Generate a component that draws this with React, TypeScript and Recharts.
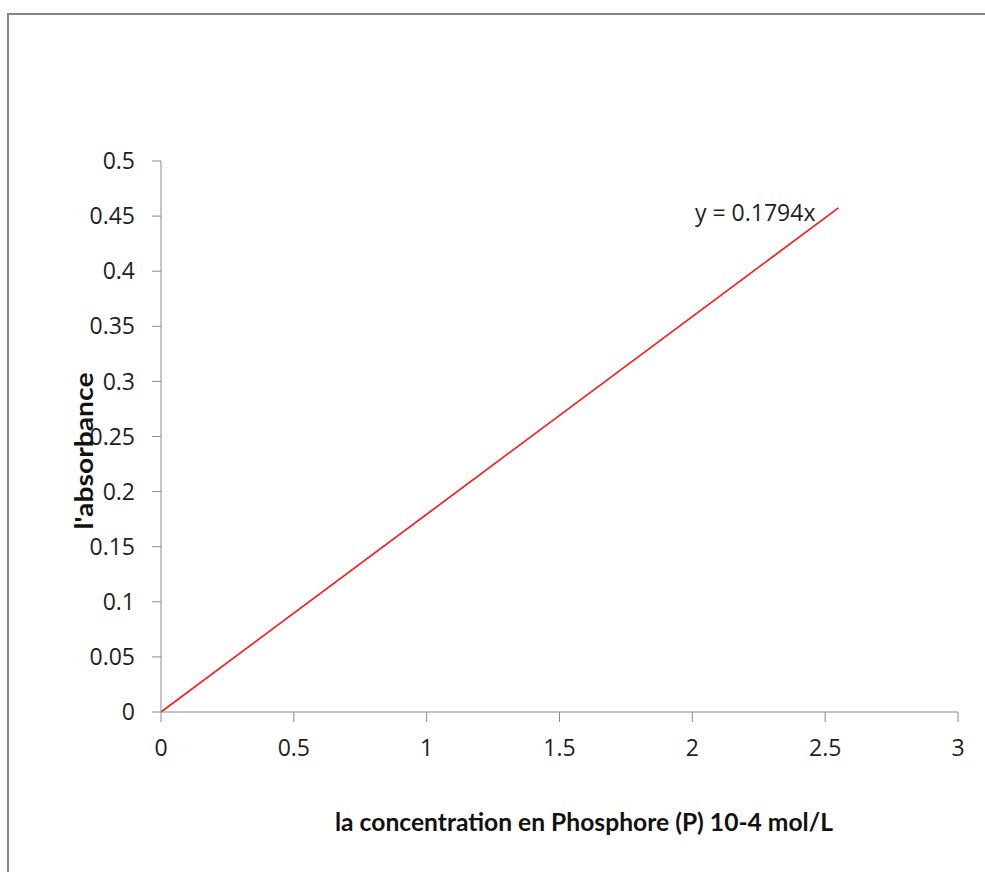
import { LineChart, Line, XAxis, YAxis, Label, LabelList } from 'recharts';

// Calibration line
const concentration = [0, 2.55];
const absorbance = [0, 0.4575];
const xTicks = [0, 0.5, 1, 1.5, 2, 2.5, 3];
const yTicks = [0, 0.05, 0.1, 0.15, 0.2, 0.25, 0.3, 0.35, 0.4, 0.45, 0.5];
const equation = 'y = 0.1794x';
const xTitle = 'la concentration en Phosphore (P) 10-4 mol/L';
const yTitle = "l'absorbance";

const data = concentration.map((c, i) => ({ c, a: absorbance[i] }));

const axisColor = '#8a8a8a';
const tickFont = { fill: '#1e1e1e', fontSize: 23, fontFamily: 'Open Sans' };

const renderEquation = (props: any) => {
  if (props.index !== data.length - 1) return null;
  return (
    <text
      x={props.x - 23}
      y={props.y + 13}
      textAnchor="end"
      fill="#1e1e1e"
      fontSize={23}
      fontFamily="Open Sans"
    >
      {equation}
    </text>
  );
};

export default function App() {
  return (
    <div style={{ position: 'absolute', left: 0, top: 0, width: 985, height: 872, overflow: 'hidden', background: '#fff' }}>
      <div
        style={{
          position: 'absolute',
          left: 7,
          top: 13,
          width: 990,
          height: 900,
          borderLeft: '2px solid #858585',
          borderTop: '2px solid #858585',
        }}
      />
      <div style={{ position: 'absolute', left: 0, top: 0 }}>
        <LineChart width={985} height={872} data={data} margin={{ top: 161, right: 27, bottom: 130, left: 0 }}>
          <XAxis
            type="number"
            dataKey="c"
            domain={[0, 3]}
            ticks={xTicks}
            height={30}
            tickSize={10}
            tickMargin={18}
            stroke={axisColor}
            tick={tickFont}
          >
            <Label
              content={(p: any) => (
                <text
                  x={p.viewBox.x + 423}
                  y={831}
                  textAnchor="middle"
                  textLength={498}
                  lengthAdjust="spacingAndGlyphs"
                  fontFamily="Lato"
                  fontWeight="bold"
                  fontSize={24}
                  fill="#111"
                >
                  {xTitle}
                </text>
              )}
            />
          </XAxis>
          <YAxis
            type="number"
            domain={[0, 0.5]}
            ticks={yTicks}
            width={161}
            tickSize={9}
            tickMargin={17}
            stroke={axisColor}
            tick={tickFont}
          >
            <Label
              content={() => (
                <text
                  x={93}
                  y={451}
                  transform="rotate(-90 93 451)"
                  textAnchor="middle"
                  textLength={157}
                  lengthAdjust="spacingAndGlyphs"
                  fontFamily="Lato"
                  fontWeight="bold"
                  fontSize={24}
                  fill="#111"
                >
                  {yTitle}
                </text>
              )}
            />
          </YAxis>
          <Line
            type="linear"
            dataKey="a"
            stroke="#ff1a1a"
            strokeWidth={1.7}
            dot={false}
            isAnimationActive={false}
          >
            <LabelList dataKey="a" content={renderEquation} />
          </Line>
        </LineChart>
      </div>
    </div>
  );
}
